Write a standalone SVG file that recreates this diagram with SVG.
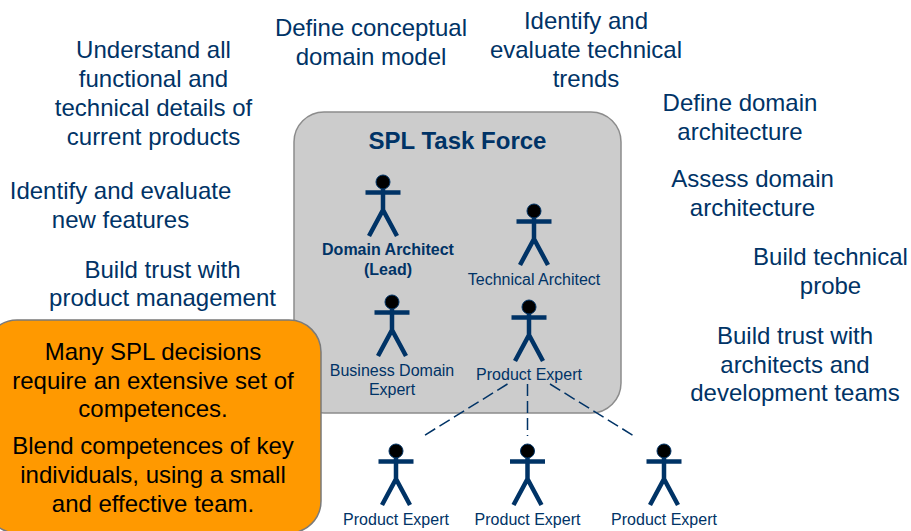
<svg xmlns="http://www.w3.org/2000/svg" width="911" height="531" viewBox="0 0 911 531">
<defs>
<style>
text{font-family:"Liberation Sans",Arial,sans-serif;text-anchor:middle}
.t{font-size:24px;fill:#003366}
.o{font-size:24px;fill:#000}
.l{font-size:16px;fill:#003366}
.b{font-size:16px;fill:#003366;font-weight:bold}
.h{font-size:24px;fill:#003366;font-weight:bold}
.s{fill:none;stroke:#003366;stroke-width:4.500}
.d{fill:none;stroke:#003366;stroke-width:1.500;stroke-dasharray:12 5}
</style>
<g id="actor"><path class="s" d="M-17.500 10.500H17.500M0 0V28M-14 54L0 28L14 54"/><circle r="7" cx="0" cy="0" fill="#000" stroke="#003366" stroke-width="1"/></g>
</defs>
<rect width="911" height="531" fill="#fff"/>
<g id="task-force"><rect x="294" y="112" width="327" height="301" rx="30" fill="#cccccc" stroke="#8c8c8c" stroke-width="1.500"/><text class="h" x="457.500" y="149">SPL Task Force</text></g>
<g id="connectors"><path class="d" d="M507.500 384L423.500 436M527.500 384V436M550 384L634 436"/></g>
<g id="domain-architect"><use href="#actor" x="383" y="182"/><text class="b" x="388" y="255">Domain Architect</text><text class="b" x="388" y="275">(Lead)</text></g>
<g id="technical-architect"><use href="#actor" x="534" y="211"/><text class="l" x="534" y="285">Technical Architect</text></g>
<g id="business-expert"><use href="#actor" x="392" y="302"/><text class="l" x="392" y="376">Business Domain</text><text class="l" x="392" y="395">Expert</text></g>
<g id="product-expert"><use href="#actor" x="529" y="307"/><text class="l" x="529" y="380">Product Expert</text></g>
<g id="product-expert-1"><use href="#actor" x="396" y="451"/><text class="l" x="396" y="525">Product Expert</text></g>
<g id="product-expert-2"><use href="#actor" x="527.500" y="451"/><text class="l" x="527.500" y="525">Product Expert</text></g>
<g id="product-expert-3"><use href="#actor" x="664" y="451"/><text class="l" x="664" y="525">Product Expert</text></g>
<g id="callout"><rect x="-15" y="320" width="336" height="213" rx="32" fill="#ff9900" stroke="#7a7a7a" stroke-width="1.500"/>
<text class="o" x="153" y="360">Many SPL decisions</text><text class="o" x="153" y="389">require an extensive set of</text><text class="o" x="153" y="417">competences.</text><text class="o" x="153" y="454">Blend competences of key</text><text class="o" x="153" y="483">individuals, using a small</text><text class="o" x="153" y="512">and effective team.</text></g>
<g id="goal-1"><text class="t" x="153.500" y="58">Understand all</text><text class="t" x="153.500" y="87">functional and</text><text class="t" x="153.500" y="116">technical details of</text><text class="t" x="153.500" y="145">current products</text></g>
<g id="goal-2"><text class="t" x="120.500" y="199">Identify and evaluate</text><text class="t" x="120.500" y="228">new features</text></g>
<g id="goal-3"><text class="t" x="162.500" y="278">Build trust with</text><text class="t" x="162.500" y="306">product management</text></g>
<g id="goal-4"><text class="t" x="371" y="36">Define conceptual</text><text class="t" x="371" y="65">domain model</text></g>
<g id="goal-5"><text class="t" x="586" y="29">Identify and</text><text class="t" x="586" y="58">evaluate technical</text><text class="t" x="586" y="87">trends</text></g>
<g id="goal-6"><text class="t" x="740" y="111">Define domain</text><text class="t" x="740" y="140">architecture</text></g>
<g id="goal-7"><text class="t" x="752.500" y="187">Assess domain</text><text class="t" x="752.500" y="216">architecture</text></g>
<g id="goal-8"><text class="t" x="830.500" y="265">Build technical</text><text class="t" x="830.500" y="294">probe</text></g>
<g id="goal-9"><text class="t" x="795" y="344">Build trust with</text><text class="t" x="795" y="373">architects and</text><text class="t" x="795" y="401">development teams</text></g>
</svg>
